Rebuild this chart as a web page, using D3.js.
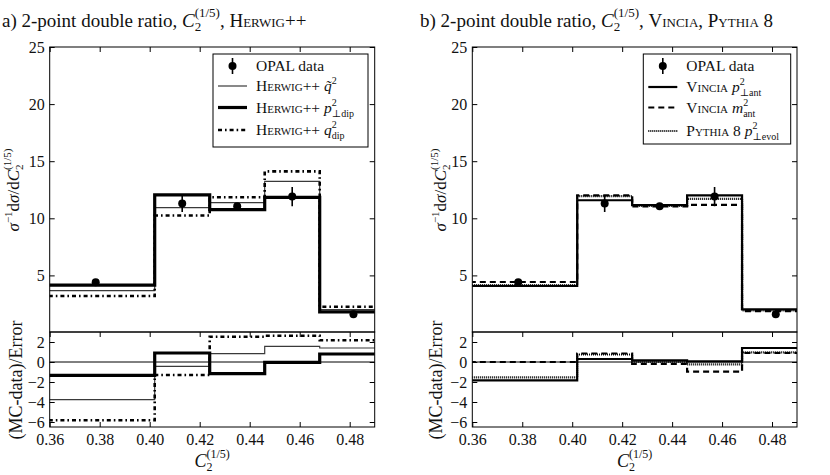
<!DOCTYPE html>
<html>
<head>
<meta charset="utf-8">
<script src="https://cdn.jsdelivr.net/npm/d3@7"></script>
<style>
body { margin: 0; background: #fff; }
text { font-family: "Liberation Serif", "DejaVu Serif", serif; fill: #111; }
</style>
</head>
<body>
<div id="chart"></div>
<script>
// bins of the C2(1/5) histogram (first/last bins run past the axis range)
var binEdges = [0.355, 0.402, 0.424, 0.446, 0.468, 0.495];

// OPAL data
var opalX = [0.3784, 0.413, 0.435, 0.457, 0.4815];
var opalValues = [4.4, 11.3, 11.05, 11.9, 1.6];
var opalErrors = [0.2, 0.75, 0.3, 0.85, 0.25];

// panel a) Herwig++
var herwigQtMain = [3.66, 10.94, 11.38, 13.24, 2.0];
var herwigPtMain = [4.15, 12.05, 10.76, 11.84, 1.8];
var herwigQdipMain = [3.2, 10.24, 11.84, 14.11, 2.25];
var herwigQtRatio = [-3.77, -0.43, 0.83, 1.57, 1.4];
var herwigPtRatio = [-1.33, 0.9, -1.17, -0.03, 0.8];
var herwigQdipRatio = [-5.83, -1.3, 2.53, 2.63, 2.17];

// panel b) Vincia, Pythia 8
var vinciaPtMain = [4.07, 11.58, 11.15, 12.01, 2.03];
var vinciaMMain = [4.42, 12.0, 11.05, 11.17, 1.88];
var pythiaMain = [4.15, 11.95, 11.1, 11.7, 1.93];
var vinciaPtRatio = [-1.83, 0.3, 0.17, 0.07, 1.4];
var vinciaMRatio = [0.0, 0.85, -0.2, -0.97, 0.9];
var pythiaRatio = [-1.53, 0.75, 0.02, -0.23, 0.97];

var mainTicks = [5, 10, 15, 20, 25];
var ratioTicks = [2, 0, -2, -4, -6];
var xTicks = [0.36, 0.38, 0.40, 0.42, 0.44, 0.46, 0.48];

var svg = d3.select("#chart").append("svg")
    .attr("width", 830)
    .attr("height", 475);

// append a list of [text, opts] runs as tspans (italic, small caps, sub/sup via dx/dy)
function addRuns(text, runs) {
  runs.forEach(function(r) {
    var o = r[1] || {};
    var t = text.append("tspan").text(r[0]);
    if (o.it) t.attr("font-style", "italic");
    if (o.sc) t.attr("font-variant", "small-caps");
    if (o.size) t.attr("font-size", o.size);
    if (o.dx) t.attr("dx", o.dx);
    if (o.dy) t.attr("dy", o.dy);
  });
  return text;
}

// C with subscript 2 and superscript (1/5) stacked; leaves the baseline raised by `up`
function c2Runs(size, sub, up) {
  return [["C", {it: 1, size: size}], ["2", {size: sub, dy: 4}], ["(1/5)", {size: sub, dx: -sub * 0.5, dy: -4 - up}]];
}

var panels = [
  {
    id: "a", left: 49.7, right: 374.7, ylabX: 19, rlabX: 22,
    title: [["a) 2-point double ratio, "]].concat(c2Runs(19, 13, 10), [[", ", {size: 19, dy: 10}], ["Herwig++", {sc: 1, size: 19}]]),
    titleX: 2,
    legend: {x: 213, y: 54, w: 155, h: 93, rows: [66, 86, 107.5, 130]},
    series: [
      {main: herwigQtMain, ratio: herwigQtRatio, color: "#3a3a3a", width: 1.2, dash: null,
       label: [["Herwig++ ", {sc: 1}], ["q\u0303", {it: 1}], ["2", {size: 10, dy: -7}]]},
      {main: herwigQdipMain, ratio: herwigQdipRatio, color: "#000", width: 2.6, dash: "4,3,1.6,3",
       label: [["Herwig++ ", {sc: 1}], ["q", {it: 1}], ["2", {size: 10, dy: -7}], ["dip", {size: 10, dx: -5, dy: 11}]]},
      {main: herwigPtMain, ratio: herwigPtRatio, color: "#000", width: 3.2, dash: null,
       label: [["Herwig++ ", {sc: 1}], ["p", {it: 1}], ["2", {size: 10, dy: -7}], ["\u22A5dip", {size: 10, dx: -5, dy: 11}]]}
    ],
    legendOrder: [0, 2, 1]
  },
  {
    id: "b", left: 472.3, right: 797, ylabX: 446, rlabX: 442,
    title: [["b) 2-point double ratio, "]].concat(c2Runs(19, 13, 10), [[", ", {size: 19, dy: 10}], ["Vincia", {sc: 1, size: 19}], [", "], ["Pythia 8", {sc: 1}]]),
    titleX: 420,
    legend: {x: 643.3, y: 54, w: 147.4, h: 90, rows: [66, 87, 107.5, 131]},
    series: [
      {main: pythiaMain, ratio: pythiaRatio, color: "#000", width: 2.2, dash: "1,1",
       label: [["Pythia 8 ", {sc: 1}], ["p", {it: 1}], ["2", {size: 10, dy: -7}], ["\u22A5evol", {size: 10, dx: -5, dy: 11}]]},
      {main: vinciaMMain, ratio: vinciaMRatio, color: "#000", width: 2.2, dash: "6,4",
       label: [["Vincia ", {sc: 1}], ["m", {it: 1}], ["2", {size: 10, dy: -7}], ["ant", {size: 10, dx: -5, dy: 11}]]},
      {main: vinciaPtMain, ratio: vinciaPtRatio, color: "#000", width: 2.2, dash: null,
       label: [["Vincia ", {sc: 1}], ["p", {it: 1}], ["2", {size: 10, dy: -7}], ["\u22A5ant", {size: 10, dx: -5, dy: 11}]]}
    ],
    legendOrder: [2, 1, 0]
  }
];

panels.forEach(drawPanel);

function stepPoints(values) {
  var pts = values.map(function(v, i) { return [binEdges[i], v]; });
  pts.push([binEdges[binEdges.length - 1], values[values.length - 1]]);
  return pts;
}

function styleAxis(g) {
  g.select(".domain").remove();
  g.selectAll(".tick line").attr("stroke", "#000");
  g.selectAll("text").attr("font-size", 16).attr("fill", "#222");
  g.attr("font-family", null).attr("font-size", null);
}

function drawPanel(p) {
  var top = 47, mid = 332, bottom = 427;
  var x = d3.scaleLinear().domain([0.36, 0.49]).range([p.left, p.right]);
  var y = d3.scaleLinear().domain([0, 25]).range([332.5, top]);
  var yr = d3.scaleLinear().domain([-6.5, 3]).range([bottom, mid]);

  var g = svg.append("g");

  g.append("clipPath").attr("id", "cm" + p.id)
    .append("rect").attr("x", p.left).attr("y", top).attr("width", p.right - p.left).attr("height", mid - top);
  g.append("clipPath").attr("id", "cr" + p.id)
    .append("rect").attr("x", p.left).attr("y", mid).attr("width", p.right - p.left).attr("height", bottom - mid);

  // axes
  g.append("g").attr("transform", "translate(" + p.left + ",0)")
    .call(d3.axisLeft(y).tickValues(mainTicks).tickSize(-5).tickPadding(5)).call(styleAxis);
  g.append("g").attr("transform", "translate(" + p.right + ",0)")
    .call(d3.axisRight(y).tickValues(mainTicks).tickSize(-5).tickFormat("")).call(styleAxis);
  g.append("g").attr("transform", "translate(0," + top + ")")
    .call(d3.axisTop(x).tickValues(xTicks).tickSize(-5).tickFormat("")).call(styleAxis);
  g.append("g").attr("transform", "translate(" + p.left + ",0)")
    .call(d3.axisLeft(yr).tickValues(ratioTicks).tickSize(-5).tickPadding(5)).call(styleAxis);
  g.append("g").attr("transform", "translate(" + p.right + ",0)")
    .call(d3.axisRight(yr).tickValues(ratioTicks).tickSize(-5).tickFormat("")).call(styleAxis);
  g.append("g").attr("transform", "translate(0," + mid + ")")
    .call(d3.axisTop(x).tickValues(xTicks).tickSize(-5).tickFormat("")).call(styleAxis);
  g.append("g").attr("transform", "translate(0," + bottom + ")")
    .call(d3.axisBottom(x).tickValues(xTicks).tickSize(-5).tickPadding(7).tickFormat(d3.format(".2f"))).call(styleAxis);

  // zero line of the ratio plot
  g.append("line")
    .attr("x1", p.left).attr("x2", p.right)
    .attr("y1", yr(0)).attr("y2", yr(0))
    .attr("stroke", "#000").attr("stroke-width", 1);

  var lineMain = d3.line().curve(d3.curveStepAfter)
    .x(function(d) { return x(d[0]); }).y(function(d) { return y(d[1]); });
  var lineRatio = d3.line().curve(d3.curveStepAfter)
    .x(function(d) { return x(d[0]); }).y(function(d) { return yr(d[1]); });

  p.series.forEach(function(s) {
    g.append("path").attr("clip-path", "url(#cm" + p.id + ")")
      .attr("d", lineMain(stepPoints(s.main)))
      .attr("fill", "none").attr("stroke", s.color).attr("stroke-width", s.width)
      .attr("stroke-dasharray", s.dash);
    g.append("path").attr("clip-path", "url(#cr" + p.id + ")")
      .attr("d", lineRatio(stepPoints(s.ratio)))
      .attr("fill", "none").attr("stroke", s.color).attr("stroke-width", s.width)
      .attr("stroke-dasharray", s.dash);
  });

  // OPAL points
  var pts = g.append("g").attr("clip-path", "url(#cm" + p.id + ")");
  pts.selectAll("line").data(opalValues).enter().append("line")
    .attr("x1", function(d, i) { return x(opalX[i]); })
    .attr("x2", function(d, i) { return x(opalX[i]); })
    .attr("y1", function(d, i) { return y(d - opalErrors[i]); })
    .attr("y2", function(d, i) { return y(d + opalErrors[i]); })
    .attr("stroke", "#000").attr("stroke-width", 1.6);
  pts.selectAll("circle").data(opalValues).enter().append("circle")
    .attr("cx", function(d, i) { return x(opalX[i]); })
    .attr("cy", function(d) { return y(d); })
    .attr("r", 4).attr("fill", "#000");

  // frames
  g.append("rect").attr("x", p.left).attr("y", top).attr("width", p.right - p.left).attr("height", mid - top)
    .attr("fill", "none").attr("stroke", "#000").attr("stroke-width", 1);
  g.append("rect").attr("x", p.left).attr("y", mid).attr("width", p.right - p.left).attr("height", bottom - mid)
    .attr("fill", "none").attr("stroke", "#000").attr("stroke-width", 1);

  // legend
  var L = p.legend;
  var lg = g.append("g");
  lg.append("rect").attr("x", L.x).attr("y", L.y).attr("width", L.w).attr("height", L.h)
    .attr("fill", "#fff").attr("stroke", "#000").attr("stroke-width", 1);
  var sx0 = L.x + 5, sx1 = L.x + 34, tx = L.x + 43;
  lg.append("line").attr("x1", (sx0 + sx1) / 2).attr("x2", (sx0 + sx1) / 2)
    .attr("y1", L.rows[0] - 8).attr("y2", L.rows[0] + 8).attr("stroke", "#000").attr("stroke-width", 1.6);
  lg.append("circle").attr("cx", (sx0 + sx1) / 2).attr("cy", L.rows[0]).attr("r", 4).attr("fill", "#000");
  lg.append("text").attr("x", tx).attr("y", L.rows[0]).attr("dy", "0.35em").attr("font-size", 15.5).text("OPAL data");
  p.legendOrder.forEach(function(k, j) {
    var s = p.series[k], ry = L.rows[j + 1];
    lg.append("line").attr("x1", sx0).attr("x2", sx1).attr("y1", ry).attr("y2", ry)
      .attr("stroke", s.color).attr("stroke-width", s.width).attr("stroke-dasharray", s.dash);
    addRuns(lg.append("text").attr("x", tx).attr("y", ry + 5).attr("font-size", 15.5), s.label);
  });

  // titles and axis labels
  addRuns(svg.append("text").attr("x", p.titleX).attr("y", 27).attr("font-size", 19), p.title);

  var cx = (p.left + p.right) / 2;
  addRuns(svg.append("text").attr("x", cx).attr("y", 467).attr("text-anchor", "middle").attr("font-size", 18),
    c2Runs(18, 12, 9));

  addRuns(svg.append("text").attr("transform", "translate(" + p.ylabX + ",190)rotate(-90)")
      .attr("text-anchor", "middle").attr("font-size", 17),
    [["\u03C3", {it: 1}], ["\u22121", {size: 11, dy: -7}], ["d", {dy: 7}], ["\u03C3", {it: 1}], ["/d"]].concat(c2Runs(17, 11, 8)));

  svg.append("text").attr("transform", "translate(" + p.rlabX + ",380)rotate(-90)")
    .attr("text-anchor", "middle").attr("font-size", 18).text("(MC-data)/Error");
}
</script>
</body>
</html>
